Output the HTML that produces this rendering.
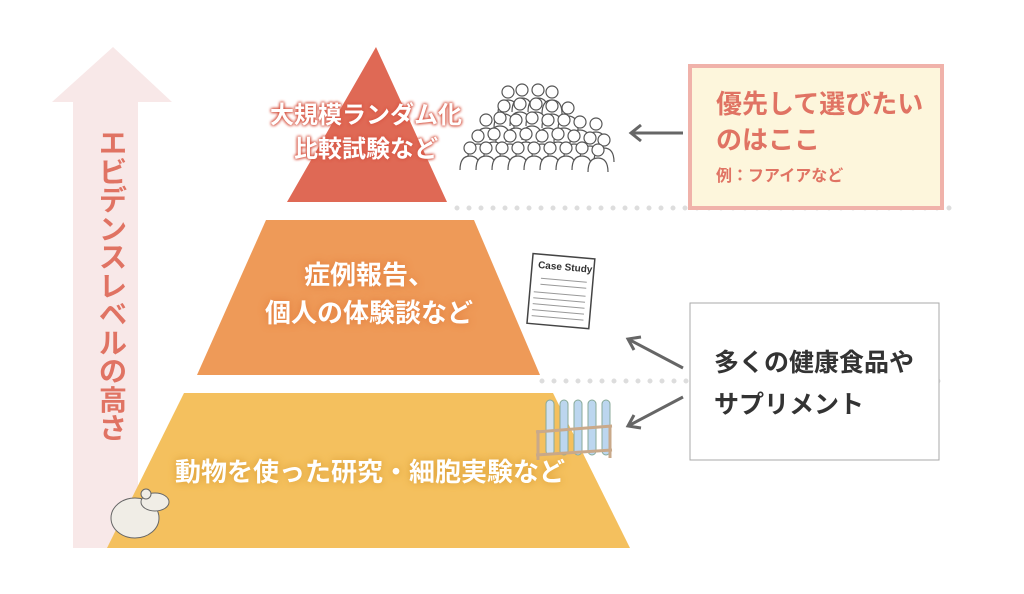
<!DOCTYPE html>
<html><head><meta charset="utf-8"><style>
body{margin:0;width:1024px;height:594px;background:#fff;overflow:hidden;position:relative;font-family:"Liberation Sans","Noto Sans CJK JP",sans-serif}
.t{position:absolute;font-weight:bold;white-space:nowrap}
</style></head><body>
<svg width="1024" height="594" style="position:absolute;left:0;top:0">
<defs><g id="p" fill="#fff" stroke="#555" stroke-width="1.2"><circle cx="0" cy="0" r="6"/><path d="M-10,22 Q-10,8 0,8 Q10,8 10,22"/></g></defs>
<polygon points="113,47 172,102 138,102 138,548 73,548 73,102 52,102" fill="#f8e8e8"/>
<polygon points="376,47 447,202 287,202" fill="#df6955"/>
<polygon points="266,220 474,220 540,375 197,375" fill="#ee9a58"/>
<polygon points="184,393 553,393 630,548 107,548" fill="#f4c05e"/>
<g stroke="#ddd" stroke-width="5" stroke-linecap="round" stroke-dasharray="0 12">
<line x1="457" y1="208" x2="950" y2="208"/>
<line x1="542" y1="381" x2="950" y2="381"/>
</g>
<g>
<use href="#p" x="508" y="92"/><use href="#p" x="522" y="90"/><use href="#p" x="538" y="90"/><use href="#p" x="552" y="92"/>
<use href="#p" x="504" y="106"/><use href="#p" x="520" y="104"/><use href="#p" x="536" y="104"/><use href="#p" x="552" y="106"/><use href="#p" x="568" y="108"/>
<use href="#p" x="486" y="120"/><use href="#p" x="500" y="118"/><use href="#p" x="516" y="120"/><use href="#p" x="532" y="118"/><use href="#p" x="548" y="120"/><use href="#p" x="564" y="120"/><use href="#p" x="580" y="122"/><use href="#p" x="596" y="124"/>
<use href="#p" x="478" y="136"/><use href="#p" x="494" y="134"/><use href="#p" x="510" y="136"/><use href="#p" x="526" y="134"/><use href="#p" x="542" y="136"/><use href="#p" x="558" y="134"/><use href="#p" x="574" y="136"/><use href="#p" x="590" y="138"/><use href="#p" x="604" y="140"/>
<use href="#p" x="470" y="148"/><use href="#p" x="486" y="148"/><use href="#p" x="502" y="148"/><use href="#p" x="518" y="148"/><use href="#p" x="534" y="148"/><use href="#p" x="550" y="148"/><use href="#p" x="566" y="148"/><use href="#p" x="582" y="148"/><use href="#p" x="598" y="150"/>
</g>
<g transform="rotate(5 560 290)">
<rect x="530" y="256" width="62" height="70" fill="#fff" stroke="#444" stroke-width="1.5"/>
<text x="536" y="270" font-size="10" font-weight="bold" fill="#333" font-family="Liberation Sans">Case Study</text>
<g stroke="#999" stroke-width="1"><line x1="540" y1="280" x2="586" y2="280"/><line x1="540" y1="286" x2="586" y2="286"/><line x1="534" y1="294" x2="586" y2="294"/><line x1="534" y1="300" x2="586" y2="300"/><line x1="534" y1="306" x2="586" y2="306"/><line x1="534" y1="312" x2="586" y2="312"/><line x1="534" y1="318" x2="586" y2="318"/></g>
</g>
<g stroke="#8a9" stroke-width="1">
<rect x="546" y="400" width="8" height="55" rx="4" fill="#cfe0f0"/><rect x="560" y="400" width="8" height="55" rx="4" fill="#bcd6ef"/><rect x="574" y="400" width="8" height="55" rx="4" fill="#bcd6ef"/><rect x="588" y="400" width="8" height="55" rx="4" fill="#bcd6ef"/><rect x="602" y="400" width="8" height="55" rx="4" fill="#bcd6ef"/>
</g>
<g stroke="#c9a98a" stroke-width="3" fill="none"><line x1="536" y1="432" x2="612" y2="426"/><line x1="536" y1="455" x2="612" y2="450"/><line x1="538" y1="430" x2="538" y2="460"/><line x1="610" y1="426" x2="610" y2="458"/></g>
<ellipse cx="135" cy="518" rx="24" ry="20" fill="#f0ede6" stroke="#666"/><ellipse cx="155" cy="502" rx="14" ry="9" fill="#f0ede6" stroke="#666"/><circle cx="146" cy="494" r="5" fill="#f0ede6" stroke="#666"/>
<line x1="683" y1="133" x2="632" y2="133" stroke="#666" stroke-width="3"/><polyline points="641,125 631,133 641,141" fill="none" stroke="#666" stroke-width="3"/>
<line x1="683" y1="368" x2="630" y2="340" stroke="#666" stroke-width="3"/><polyline points="634,350 628,339 641,337" fill="none" stroke="#666" stroke-width="3"/>
<line x1="683" y1="397" x2="630" y2="425" stroke="#666" stroke-width="3"/><polyline points="634,415 628,426 641,428" fill="none" stroke="#666" stroke-width="3"/>
<rect x="690" y="66" width="252" height="142" fill="#fdf6dc" stroke="#f0b2aa" stroke-width="4"/>
<rect x="690" y="303" width="249" height="157" fill="#fff" stroke="#aaa" stroke-width="1"/>
</svg>
<div class="t" style="left:96px;top:130px;width:34px;font-size:28px;line-height:28.5px;color:#e07363;white-space:normal;text-align:center">エビデンスレベルの高さ</div>
<div class="t" style="left:226px;top:99px;width:280px;text-align:center;font-size:24px;line-height:34px;color:#fff;text-shadow:0 0 3px #d85a48,0 0 3px #d85a48,0 0 3px #d85a48">大規模ランダム化<br>比較試験など</div>
<div class="t" style="left:214px;top:256px;width:310px;text-align:center;font-size:26px;line-height:38px;color:#fff;text-shadow:0 0 8px #e07a3a">症例報告、<br>個人の体験談など</div>
<div class="t" style="left:140px;top:452px;width:460px;text-align:center;font-size:26px;color:#fff;text-shadow:0 0 8px #d89a30">動物を使った研究・細胞実験など</div>
<div class="t" style="left:716px;top:86px;font-size:26px;line-height:36px;color:#e07363">優先して選びたい<br>のはここ</div>
<div class="t" style="left:716px;top:162px;font-size:16px;color:#e07363">例：フアイアなど</div>
<div class="t" style="left:714px;top:342px;font-size:25px;line-height:42px;color:#333">多くの健康食品や<br>サプリメント</div>
</body></html>
